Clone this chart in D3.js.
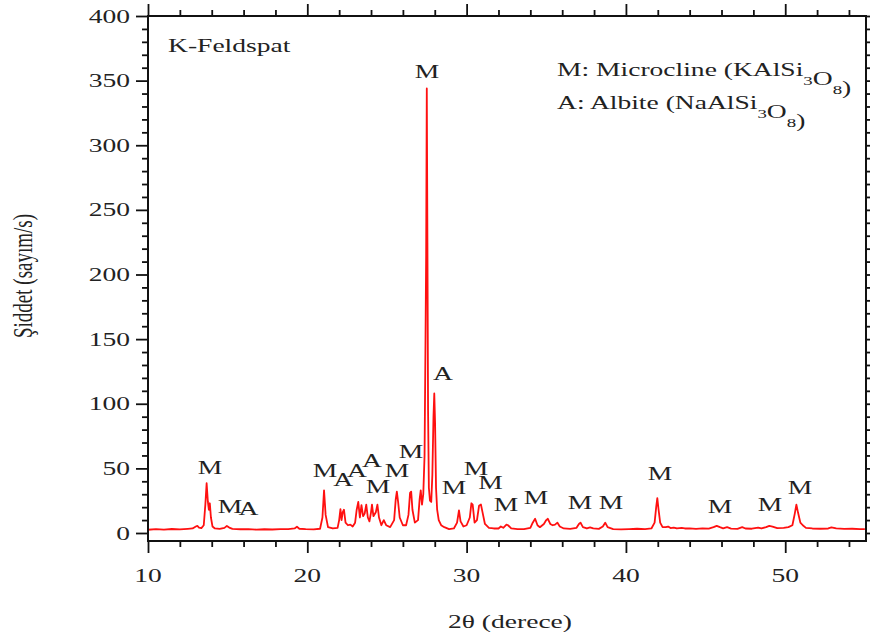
<!DOCTYPE html>
<html>
<head>
<meta charset="utf-8">
<script src="https://cdn.jsdelivr.net/npm/d3@7"></script>
<style>
  html, body { margin: 0; padding: 0; background: #fff; }
  svg text { font-family: "Liberation Serif", "Times New Roman", serif; fill: #222; }
</style>
</head>
<body>
<svg id="chart" width="870" height="637"></svg>
<script>
// XRD pattern of K-feldspar: 2θ (degrees) and intensity (counts/s)
const twoTheta = [
  10.0, 10.5, 11.0, 11.5, 12.0, 12.5, 12.8, 13.0, 13.1, 13.2, 13.35, 13.5, 13.6, 13.68, 13.76, 13.82, 13.88, 13.95,
  14.05, 14.2, 14.5, 14.8, 14.95, 15.1, 15.3, 15.8, 16.3, 16.8, 17.3, 17.8, 18.3, 18.8, 19.2, 19.35, 19.5, 19.9,
  20.4, 20.8, 20.95, 21.05, 21.15, 21.3, 21.6, 21.9, 22.0, 22.08, 22.15, 22.22, 22.3, 22.4, 22.55, 22.7, 22.85,
  23.0, 23.1, 23.2, 23.3, 23.4, 23.5, 23.6, 23.7, 23.8, 23.9, 24.0, 24.06, 24.15, 24.3, 24.4, 24.5, 24.65, 24.8,
  24.95, 25.2, 25.45, 25.55, 25.62, 25.7, 25.8, 26.0, 26.2, 26.35, 26.45, 26.52, 26.6, 26.75, 26.95, 27.05, 27.12,
  27.2, 27.28, 27.36, 27.42, 27.46, 27.5, 27.54, 27.58, 27.63, 27.7, 27.78, 27.85, 27.92, 27.97, 28.02, 28.08,
  28.15, 28.25, 28.4, 28.6, 28.9, 29.2, 29.4, 29.52, 29.62, 29.8, 30.0, 30.2, 30.3, 30.38, 30.5, 30.65, 30.78,
  30.9, 31.0, 31.15, 31.4, 31.7, 32.0, 32.15, 32.3, 32.5, 32.6, 32.8, 33.2, 33.6, 34.0, 34.15, 34.3, 34.45, 34.6,
  34.85, 35.0, 35.1, 35.25, 35.4, 35.55, 35.7, 35.85, 36.1, 36.5, 36.9, 37.05, 37.15, 37.3, 37.55, 37.75, 37.95,
  38.3, 38.55, 38.7, 38.85, 39.2, 39.7, 40.2, 40.7, 41.2, 41.6, 41.8, 41.9, 41.97, 42.05, 42.15, 42.3, 42.5, 42.65,
  42.8, 43.0, 43.2, 43.5, 43.7, 44.0, 44.4, 44.8, 45.2, 45.5, 45.7, 45.9, 46.1, 46.35, 46.6, 47.0, 47.3, 47.5,
  47.9, 48.3, 48.5, 48.8, 49.0, 49.2, 49.5, 49.9, 50.2, 50.45, 50.6, 50.7, 50.8, 50.95, 51.1, 51.3, 51.7, 52.2,
  52.7, 52.9, 53.2, 53.7, 54.2, 54.7, 55.0
];
const intensity = [
  2.5, 3, 2.6, 3.1, 2.8, 3.2, 3.5, 5.0, 5.5, 4.2, 3.8, 6, 22, 38.5, 24, 18, 23, 12,
  5, 3.5, 3.2, 4, 5.5, 4.2, 3.2, 2.9, 3, 2.6, 2.9, 2.7, 3, 3, 3.5, 4.8, 3.3, 3,
  2.8, 3.3, 12, 33, 14, 4.5, 3.5, 4, 10, 18.5, 10, 16, 18, 8, 6, 6.5, 5,
  8, 18, 24, 12, 21.5, 13, 15, 22, 12, 9, 16, 22, 13, 16, 22, 12, 6, 10,
  6, 4.5, 10, 26, 32, 24, 12, 6, 6, 14, 31, 32, 18, 8, 10, 26, 33,
  22, 30, 60, 150, 215, 344, 225, 95, 35, 25, 24, 45, 90, 108, 85, 35,
  18, 10, 6, 4.5, 3, 3.5, 8, 17.5, 9, 5, 6, 12, 23, 22, 8, 10, 21,
  22, 16, 7, 4, 3.5, 3.5, 5, 4, 6.5, 6, 3.5, 3, 3, 4, 8, 11, 6, 4.5,
  7, 10, 11, 7, 6, 6.5, 8, 5, 3.5, 3.2, 4, 7, 8, 4.5, 3.5, 4.3, 3.5,
  3.2, 5, 8, 4.5, 3, 2.8, 3, 3.3, 3, 3.5, 8, 20, 27, 18, 8, 4.5, 4.5, 5,
  3.8, 4.2, 3.5, 4, 3.5, 3.6, 3.2, 3.5, 3.4, 4.5, 5.5, 4.5, 3.6, 4.5, 3.4, 3.2, 4.5, 3.5,
  3.3, 4.2, 3.5, 4.5, 5.5, 5, 3.8, 4, 4.5, 6, 15, 22, 16, 8, 6, 4, 3.5, 3.3,
  3.5, 4.3, 3.5, 3.2, 3.3, 3.0, 3.0
];

// Phase labels placed above the reflections (2θ, label baseline in counts)
const peakLabels     = ["M", "M", "A", "M", "A", "A", "A", "M", "M", "M", "M", "A", "M", "M", "M", "M", "M", "M", "M", "M", "M", "M", "M"];
const peakLabelTheta = [13.89, 15.15, 16.3, 21.11, 22.26, 23.12, 24.06, 24.44, 25.63, 26.51, 27.51, 28.52, 29.21, 30.59, 31.5, 32.47, 34.36, 37.12, 39.07, 42.14, 45.9, 49.05, 50.93];
const peakLabelCount = [45.6, 15.5, 13.9, 43.3, 36.4, 43.3, 51.1, 30.9, 43.3, 58.0, 352, 118.4, 30.2, 44.9, 34.0, 17.0, 22.4, 18.6, 18.6, 41.0, 15.5, 17.0, 30.2];

const xMajorTicks = [10, 20, 30, 40, 50];
const yMajorTicks = [0, 50, 100, 150, 200, 250, 300, 350, 400];
const xMinorTicks = [12, 14, 16, 18, 22, 24, 26, 28, 32, 34, 36, 38, 42, 44, 46, 48, 52, 54];
const yMinorTicks = [10, 20, 30, 40, 60, 70, 80, 90, 110, 120, 130, 140, 160, 170, 180, 190, 210, 220, 230, 240,
                     260, 270, 280, 290, 310, 320, 330, 340, 360, 370, 380, 390];

const svg = d3.select("#chart");
const frame = { left: 148, right: 866, top: 16, bottom: 541 };
const FS = 19;          // font size
const SX = 1.45;        // horizontal glyph stretch of the typeface

const x = d3.scaleLinear().domain([10, 55.07]).range([frame.left, frame.right]);
const y = d3.scaleLinear().domain([0, 400]).range([533, frame.top]);

// stretched text helper
function stext(g, px, py, str, anchor) {
  return g.append("text")
    .attr("transform", `translate(${px},${py}) scale(${SX},1)`)
    .attr("text-anchor", anchor || "start")
    .attr("font-size", FS)
    .text(str);
}

// diffraction trace
const pts = twoTheta.map((t, i) => [t, intensity[i]]);
svg.append("path")
  .datum(pts)
  .attr("fill", "none")
  .attr("stroke", "#ff1010")
  .attr("stroke-width", 1.8)
  .attr("stroke-linejoin", "round")
  .attr("d", d3.line().x(d => x(d[0])).y(d => y(d[1])));

// axes: ticks drawn with d3 axes, outward on all four sides
function tickStyle(g) {
  g.select(".domain").remove();
  g.selectAll("line").attr("stroke", "#111").attr("stroke-width", 1.8);
}
const bottomG = svg.append("g").attr("transform", `translate(0,${frame.bottom})`);
bottomG.append("g").call(d3.axisBottom(x).tickValues(xMajorTicks).tickSize(12).tickFormat("")).call(tickStyle);
bottomG.append("g").call(d3.axisBottom(x).tickValues(xMinorTicks).tickSize(6).tickFormat("")).call(tickStyle);

const topG = svg.append("g").attr("transform", `translate(0,${frame.top})`);
topG.append("g").call(d3.axisTop(x).tickValues(xMajorTicks).tickSize(12).tickFormat("")).call(tickStyle);
topG.append("g").call(d3.axisTop(x).tickValues(xMinorTicks).tickSize(6).tickFormat("")).call(tickStyle);

const leftG = svg.append("g").attr("transform", `translate(${frame.left},0)`);
leftG.append("g").call(d3.axisLeft(y).tickValues(yMajorTicks).tickSize(12).tickFormat("")).call(tickStyle);
leftG.append("g").call(d3.axisLeft(y).tickValues(yMinorTicks).tickSize(6).tickFormat("")).call(tickStyle);

const rightG = svg.append("g").attr("transform", `translate(${frame.right},0)`);
rightG.append("g").call(d3.axisRight(y).tickValues(yMajorTicks).tickSize(12).tickFormat("")).call(tickStyle);
rightG.append("g").call(d3.axisRight(y).tickValues(yMinorTicks).tickSize(6).tickFormat("")).call(tickStyle);

// frame
svg.append("rect")
  .attr("x", frame.left).attr("y", frame.top)
  .attr("width", frame.right - frame.left).attr("height", frame.bottom - frame.top)
  .attr("fill", "none").attr("stroke", "#111").attr("stroke-width", 2);

// tick labels
const labels = svg.append("g");
xMajorTicks.forEach(v => stext(labels, x(v), 582, String(v), "middle"));
yMajorTicks.forEach(v => stext(labels, 130, y(v) + 6.5, String(v), "end"));

// axis titles
stext(labels, 510, 628, "2θ (derece)", "middle");
labels.append("text")
  .attr("transform", `translate(32,${276}) scale(${SX},1) rotate(-90)`)
  .attr("text-anchor", "middle")
  .attr("font-size", FS)
  .text("Şiddet (sayım/s)");

// sample name
stext(labels, 168, 52, "K-Feldspat", "start");

// phase key
function formula(py, prefix, parts) {
  const t = stext(labels, 557, py, prefix, "start");
  parts.forEach(p => {
    if (p.sub) {
      t.append("tspan").attr("dy", 9).attr("font-size", 13).text(p.s);
      t.append("tspan").attr("dy", -9).text("");
    } else {
      t.append("tspan").text(p.s);
    }
  });
}
formula(76, "M: Microcline (KAlSi", [{ s: "3", sub: true }, { s: "O" }, { s: "8", sub: true }, { s: ")" }]);
formula(109, "A: Albite (NaAlSi", [{ s: "3", sub: true }, { s: "O" }, { s: "8", sub: true }, { s: ")" }]);

// phase labels over reflections
peakLabels.forEach((s, i) =>
  stext(labels, x(peakLabelTheta[i]), y(peakLabelCount[i]), s, "middle"));
</script>
</body>
</html>
